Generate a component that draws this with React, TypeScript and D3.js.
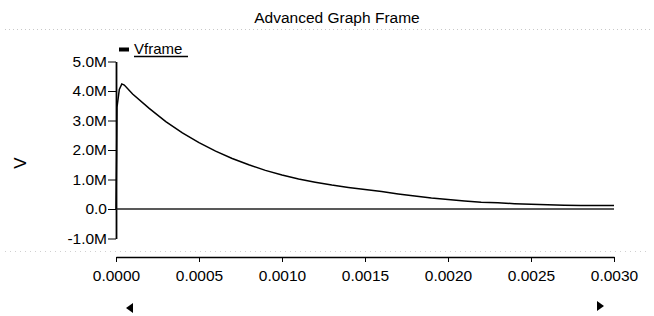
import { useEffect, useRef } from 'react';
import * as d3 from 'd3';

// Vframe trace (time in s, volts)
const timeValues = [
  0, 0.000004, 0.000006, 0.00002, 0.000035, 0.00005, 0.0001, 0.0002, 0.0003, 0.0004,
  0.0005, 0.0006, 0.0007, 0.0008, 0.0009, 0.001, 0.0011, 0.0012, 0.0013, 0.0014,
  0.0015, 0.0016, 0.0017, 0.0018, 0.0019, 0.002, 0.0021, 0.0022, 0.0023, 0.0024,
  0.0025, 0.0026, 0.0027, 0.0028, 0.0029, 0.003,
];
const vframeValues = [
  0, 2.0e6, 3.45e6, 4.05e6, 4.24e6, 4.2e6, 3.9e6, 3.41e6, 2.96e6, 2.58e6,
  2.25e6, 1.96e6, 1.71e6, 1.5e6, 1.31e6, 1.15e6, 1.02e6, 0.91e6, 0.81e6, 0.73e6,
  0.66e6, 0.59e6, 0.51e6, 0.44e6, 0.37e6, 0.32e6, 0.27e6, 0.23e6, 0.21e6, 0.18e6,
  0.16e6, 0.14e6, 0.125e6, 0.12e6, 0.12e6, 0.12e6,
];
const baselineTimes = [0, 0.003];
const baselineValues = [0, 0];

const xTicks = [0, 0.0005, 0.001, 0.0015, 0.002, 0.0025, 0.003];
const xTickLabels = ['0.0000', '0.0005', '0.0010', '0.0015', '0.0020', '0.0025', '0.0030'];
const yTicks = [5e6, 4e6, 3e6, 2e6, 1e6, 0, -1e6];
const yTickLabels = ['5.0M', '4.0M', '3.0M', '2.0M', '1.0M', '0.0', '-1.0M'];

const title = 'Advanced Graph Frame';
const seriesName = 'Vframe';
const yLabel = 'V';

const W = 654;
const H = 316;

export default function App() {
  const svgRef = useRef<SVGSVGElement>(null);

  useEffect(() => {
    const svg = d3.select(svgRef.current);
    svg.selectAll('*').remove();
    const font = 'Liberation Sans, Arial, sans-serif';

    const x = d3.scaleLinear().domain([0, 0.003]).range([116, 614]);
    const y = d3.scaleLinear().domain([-1e6, 5e6]).range([238.5, 61.5]);

    svg.append('rect').attr('width', W).attr('height', H).attr('fill', '#fff');

    // faint frame separator lines
    svg.append('line').attr('x1', 5).attr('x2', 650).attr('y1', 29.5).attr('y2', 29.5)
      .attr('stroke', '#c8c8c8').attr('stroke-dasharray', '1,3');
    svg.append('line').attr('x1', 5).attr('x2', 650).attr('y1', 251.5).attr('y2', 251.5)
      .attr('stroke', '#d0d0d0').attr('stroke-dasharray', '1,4');

    svg.append('text').attr('x', 337).attr('y', 23).attr('text-anchor', 'middle')
      .attr('font-family', font).attr('font-size', 15.5).attr('fill', '#000').text(title);

    // legend
    svg.append('rect').attr('x', 119).attr('y', 47.5).attr('width', 10).attr('height', 4).attr('fill', '#000');
    svg.append('text').attr('x', 134).attr('y', 53.5).attr('font-family', font).attr('font-size', 15)
      .attr('fill', '#000').text(seriesName);
    svg.append('line').attr('x1', 134).attr('x2', 188).attr('y1', 56.5).attr('y2', 56.5)
      .attr('stroke', '#000').attr('stroke-width', 1.3);

    // y axis
    const yAxis = svg.append('g').attr('transform', 'translate(116,0)')
      .call(d3.axisLeft(y).tickValues(yTicks).tickSize(8).tickSizeOuter(0)
        .tickFormat((_d, i) => yTickLabels[i]));
    yAxis.select('.domain').attr('stroke', '#000').attr('stroke-width', 1.8);
    yAxis.selectAll('.tick line').attr('stroke', '#000');
    yAxis.selectAll('.tick text').attr('font-family', font).attr('font-size', 15.5)
      .attr('fill', '#000').attr('x', -9);

    svg.append('text').attr('transform', 'translate(26,163) rotate(-90)')
      .attr('text-anchor', 'middle').attr('font-family', font).attr('font-size', 17)
      .attr('fill', '#000').text(yLabel);

    // x axis
    const xAxis = svg.append('g').attr('transform', 'translate(0,257)')
      .call(d3.axisBottom(x).tickValues(xTicks).tickSize(5).tickSizeOuter(0)
        .tickFormat((_d, i) => xTickLabels[i]));
    xAxis.select('.domain').attr('stroke', '#000').attr('stroke-width', 1.3);
    xAxis.selectAll('.tick line').attr('stroke', '#000');
    xAxis.selectAll('.tick text').attr('font-family', font).attr('font-size', 15.5)
      .attr('fill', '#000').attr('dy', '1.05em');

    // traces
    const vLine = d3.line<number>()
      .x((_d, i) => x(timeValues[i]))
      .y(d => y(d));
    const bLine = d3.line<number>()
      .x((_d, i) => x(baselineTimes[i]))
      .y(d => y(d));
    svg.append('path').attr('d', bLine(baselineValues) || '').attr('fill', 'none')
      .attr('stroke', '#222').attr('stroke-width', 1.6);
    svg.append('path').attr('d', vLine(vframeValues) || '').attr('fill', 'none')
      .attr('stroke', '#000').attr('stroke-width', 1.5);

    // scroll arrows
    svg.append('path').attr('d', 'M126,308 L133,303 L133,313 Z').attr('fill', '#000');
    svg.append('path').attr('d', 'M604,306 L597,301 L597,311 Z').attr('fill', '#000');
  }, []);

  return (
    <div style={{ position: 'fixed', left: 0, top: 0 }}>
      <svg ref={svgRef} width={W} height={H} />
    </div>
  );
}
